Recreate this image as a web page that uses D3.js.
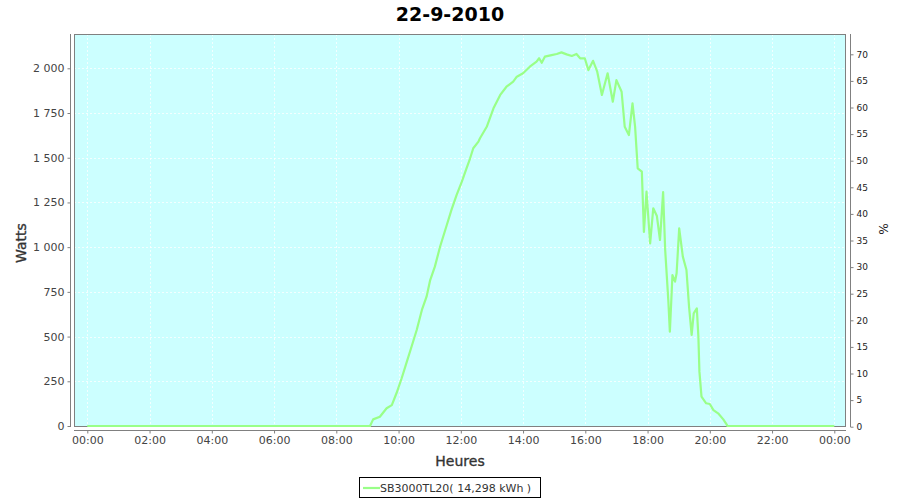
<!DOCTYPE html>
<html>
<head>
<meta charset="utf-8">
<script src="https://cdn.jsdelivr.net/npm/d3@7/dist/d3.min.js"></script>
<style>
  html, body { margin: 0; padding: 0; background: #fff; }
  svg { display: block; font-family: "DejaVu Sans", sans-serif; }
</style>
</head>
<body>
<svg id="chart" width="900" height="500"></svg>
<script>
// ---------- data ----------
const title = "22-9-2010";
const seriesName = "SB3000TL20( 14,298 kWh )";
const times = ["00:00","09:05","09:11","09:24","09:37","09:47","09:56","10:06","10:16","10:25","10:35",
  "10:45","10:54","11:01","11:10","11:20","11:33","11:42","11:52","12:02","12:11","12:18","12:24",
  "12:34","12:37","12:50","13:03","13:16","13:28","13:41","13:48","14:00","14:13","14:26","14:31",
  "14:36","14:42","14:55","15:05","15:14","15:24","15:34","15:43","15:50","15:59","16:06","16:15",
  "16:23","16:32","16:43","16:53","17:00","17:10","17:16","17:24","17:31","17:36","17:41","17:49",
  "17:53","17:58","18:05","18:11","18:18","18:24","18:30","18:34","18:40","18:43","18:48","18:53",
  "18:56","19:01","19:08","19:15","19:20","19:25","19:29","19:35","19:38","19:40","19:44","19:53",
  "20:00","20:07","20:16","20:26","20:33","20:34","24:00"];
const watts = [0,0,37,52,99,117,183,267,360,443,537,
  649,723,816,891,1002,1124,1208,1292,1366,1441,1497,1553,
  1590,1609,1673,1776,1851,1897,1925,1953,1972,2009,2037,2056,
  2031,2065,2074,2080,2089,2078,2069,2080,2056,2056,1990,2042,
  1981,1851,1972,1813,1934,1869,1673,1627,1804,1673,1441,1422,
  1085,1310,1021,1217,1174,1040,1308,984,704,527,844,807,
  854,1105,947,872,667,509,630,658,499,304,164,127,
  123,89,71,37,6,0,0];
const leftTicks = [0,250,500,750,1000,1250,1500,1750,2000];
const rightTicks = [0,5,10,15,20,25,30,35,40,45,50,55,60,65,70];
const xTickHours = [0,2,4,6,8,10,12,14,16,18,20,22,24];

// ---------- layout ----------
const svg = d3.select("#chart");
const plot = {left: 74, right: 846, top: 34, bottom: 427};
const day0 = new Date(2010, 8, 22, 0, 0);
const toDate = s => { const [h, m] = s.split(":").map(Number); return new Date(2010, 8, 22, h, m); };
const day1 = toDate("24:00");

const x = d3.scaleTime().domain([day0, day1]).range([87.3, 834.3]);
const y = d3.scaleLinear().domain([0, 2000]).range([426, 68.3]);
const yR = d3.scaleLinear().domain([0, 70]).range([426.7, 54.3]);

const data = times.map((t, i) => ({t: toDate(t), w: watts[i]}));
const axisColor = "#808080";
const tickText = "#444";

// title
svg.append("text").attr("x", 450).attr("y", 21).attr("text-anchor", "middle")
  .attr("font-size", 19).attr("font-weight", "bold").attr("fill", "#000").text(title);

// plot background
svg.append("rect").attr("x", plot.left).attr("y", plot.top)
  .attr("width", plot.right - plot.left).attr("height", plot.bottom - plot.top)
  .attr("fill", "#ccffff");

// grid
const grid = svg.append("g").attr("stroke", "#fff").attr("stroke-dasharray", "2,2")
  .attr("stroke-width", 1).attr("stroke-opacity", 0.75);
leftTicks.forEach(v => grid.append("line").attr("x1", plot.left).attr("x2", plot.right)
  .attr("y1", Math.round(y(v)) + 0.5).attr("y2", Math.round(y(v)) + 0.5));
xTickHours.forEach(h => { const xx = Math.round(x(new Date(2010, 8, 22, h, 0))) + 0.5;
  grid.append("line").attr("x1", xx).attr("x2", xx).attr("y1", plot.top).attr("y2", plot.bottom); });

// plot outline
svg.append("rect").attr("x", plot.left + 0.5).attr("y", plot.top + 0.5)
  .attr("width", plot.right - plot.left - 1).attr("height", plot.bottom - plot.top - 1)
  .attr("fill", "none").attr("stroke", axisColor);

// line
svg.append("path").datum(data)
  .attr("fill", "none").attr("stroke", "#99ff88").attr("stroke-width", 2.2)
  .attr("stroke-linejoin", "round")
  .attr("d", d3.line().x(d => x(d.t)).y(d => y(d.w)));

// left axis
const gL = svg.append("g").attr("transform", "translate(70.5,0)")
  .call(d3.axisLeft(y).tickValues(leftTicks).tickSize(3).tickPadding(3));
gL.select(".domain").attr("d", `M0,${plot.top}V${plot.bottom}`).attr("stroke", axisColor);
gL.selectAll(".tick line").attr("stroke", axisColor);
gL.selectAll("text").attr("font-size", 11).attr("fill", tickText).attr("font-family", "DejaVu Sans")
  .text(d => d >= 1000 ? d3.format(",")(d).replace(/,/g, " ") : d);

// right axis
const gR = svg.append("g").attr("transform", "translate(850.5,0)")
  .call(d3.axisRight(yR).tickValues(rightTicks).tickSize(3).tickPadding(3));
gR.select(".domain").attr("d", `M0,${plot.top}V${plot.bottom}`).attr("stroke", axisColor);
gR.selectAll(".tick line").attr("stroke", axisColor);
gR.selectAll("text").attr("font-size", 9).attr("fill", "#222").attr("font-family", "DejaVu Sans");

// bottom axis
const gB = svg.append("g").attr("transform", "translate(0,430.5)")
  .call(d3.axisBottom(x).tickValues(xTickHours.map(h => new Date(2010, 8, 22, h, 0)))
    .tickSize(3).tickPadding(3).tickFormat(d3.timeFormat("%H:%M")));
gB.select(".domain").attr("d", `M${plot.left},0H${plot.right}`).attr("stroke", axisColor);
gB.selectAll(".tick line").attr("stroke", axisColor);
gB.selectAll("text").attr("font-size", 11).attr("fill", tickText).attr("font-family", "DejaVu Sans");

// axis labels
svg.append("text").attr("transform", "translate(26,243) rotate(-90)").attr("text-anchor", "middle")
  .attr("font-size", 14).attr("fill", "#333").attr("stroke", "#333").attr("stroke-width", 0.35)
  .text("Watts");
svg.append("text").attr("x", 460).attr("y", 466).attr("text-anchor", "middle")
  .attr("font-size", 14).attr("fill", "#333").attr("stroke", "#333").attr("stroke-width", 0.35)
  .text("Heures");
svg.append("text").attr("transform", "translate(879,229) rotate(90)").attr("text-anchor", "middle")
  .attr("font-size", 12).attr("fill", "#222").text("%");

// legend
const lg = svg.append("g");
lg.append("rect").attr("x", 359.5).attr("y", 477.5).attr("width", 181).attr("height", 20)
  .attr("fill", "#fff").attr("stroke", "#000");
lg.append("line").attr("x1", 363).attr("x2", 380).attr("y1", 488).attr("y2", 488)
  .attr("stroke", "#99ff88").attr("stroke-width", 2.2);
lg.append("text").attr("x", 380).attr("y", 492).attr("font-size", 11).attr("fill", "#333").text(seriesName);
</script>
</body>
</html>
